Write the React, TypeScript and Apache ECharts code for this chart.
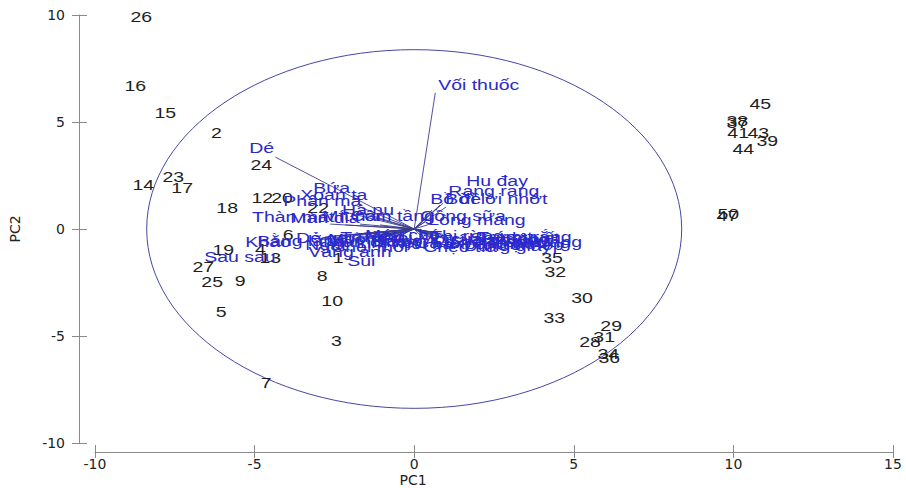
import React, { useEffect, useRef } from "react";
import * as echarts from "echarts";

// Observation scores (PC1, PC2)
const obsLabels = ["1","2","3","4","5","6","7","8","9","10","12","13","14","15","16","17","18","19","20","22","23","24","25","26","27","28","29","30","31","32","33","34","35","36","37","38","39","41","43","44","45","47","50"];
const obsPC1 = [-2.38,-6.20,-2.44,-4.82,-6.05,-3.95,-4.64,-2.88,-5.45,-2.57,-4.76,-4.51,-8.49,-7.80,-8.74,-7.27,-5.86,-5.98,-4.14,-3.01,-7.55,-4.79,-6.33,-8.55,-6.61,5.51,6.17,5.26,5.95,4.42,4.39,6.08,4.32,6.11,10.12,10.12,11.06,10.15,10.78,10.31,10.84,9.81,9.84];
const obsPC2 = [-1.36,4.49,-5.23,-0.93,-3.88,-0.28,-7.20,-2.20,-2.43,-3.36,1.45,-1.36,2.06,5.42,6.68,1.92,0.98,-0.98,1.45,0.98,2.43,2.99,-2.48,9.91,-1.78,-5.28,-4.53,-3.22,-5.05,-2.01,-4.16,-5.84,-1.36,-6.03,4.95,5.05,4.11,4.49,4.49,3.74,5.84,0.61,0.70];

// Variable loadings (arrow tips) and label anchors
const varNames = ["Vối thuốc","Dé","Hu đay","Rang rang","Bồ đề","Bời lời nhớt","Cồng sữa","Lòng mang","Chẹo tía","Mò cua","Trâm vỏ đỏ","Xoan nhừ","Sơn huyết","Gội nếp","Trám trắng","Re hương","Thị rừng","Cà lồ","Sâng","Bứa","Phân mã","Xoan ta","Hà nu","Thàn mát","Mán đỉa","Mít nài","Côm tầng","Kháo","Bằng lăng","Sau sau","Vàng anh","Sui","Dẻ gai","Chân chim","Trường","Lim xẹt","Giổi","Thôi ba","Máu chó","Ngát","Trâm trắng","Dung giấy","Chòi mòi","Ba soi","Lá nến","Muồng"];
const varTipX = [0.66,-4.35,0.91,0.81,0.56,1.00,0.34,0.50,0.40,0.55,0.70,0.45,0.80,0.85,0.75,0.60,0.35,0.25,0.90,-1.85,-2.16,-1.70,-1.32,-2.63,-2.16,-1.70,-1.07,-2.79,-2.48,-3.01,-1.54,-1.07,-2.20,-1.90,-1.50,-1.20,-0.80,-0.60,-1.00,-2.00,0.95,0.65,-1.30,-0.90,0.30,-1.60];
const varTipY = [6.36,3.36,1.21,1.12,0.89,1.03,0.33,0.23,-0.25,-0.15,-0.22,-0.30,-0.30,-0.40,-0.18,-0.35,-0.12,-0.20,-0.25,1.12,0.79,0.80,0.56,0.23,0.19,0.23,0.19,-0.37,-0.33,-0.51,-0.51,-0.65,-0.30,-0.45,-0.25,-0.40,-0.25,-0.40,-0.15,-0.55,-0.45,-0.50,-0.55,-0.35,-0.45,-0.20];
const varLabelX = [0.75,-5.17,1.63,1.07,0.50,0.97,0.19,0.44,0.28,0.13,0.81,1.19,1.75,2.54,1.97,2.13,0.50,0.03,2.85,-3.16,-4.10,-3.57,-2.26,-5.08,-3.88,-2.88,-2.00,-5.29,-4.92,-6.58,-3.32,-2.10,-3.70,-3.01,-2.32,-1.82,-1.13,-0.81,-1.54,-3.41,2.30,1.55,-2.60,-1.30,0.60,-2.70];
const varLabelY = [6.73,3.79,2.24,1.78,1.40,1.40,0.61,0.42,-0.84,-0.47,-0.51,-0.70,-0.42,-0.75,-0.37,-0.65,-0.33,-0.65,-0.47,1.92,1.31,1.59,0.89,0.56,0.51,0.61,0.61,-0.61,-0.56,-1.31,-1.07,-1.50,-0.42,-0.61,-0.37,-0.65,-0.42,-0.70,-0.28,-0.75,-0.58,-0.80,-0.85,-0.55,-0.60,-0.48];

const xMin = -10, xMax = 15, xStep = 5;
const yMin = -10, yMax = 10, yStep = 5;
const circleRadius = [8.38];

const AXIS_GRAY = "#8a8a8a";
const BLUE = "#2a2acc";
const LINE_BLUE = "#3c3c8c";
const TEXT_FONT = '15px "Liberation Sans", Arial, sans-serif';
const STRETCH = 1.3;

export default function App() {
  const ref = useRef<HTMLDivElement>(null);
  useEffect(() => {
    if (!ref.current) return;
    const chart = echarts.init(ref.current, undefined, { renderer: "svg" });
    const axisLabelStyle = { fontFamily: "DejaVu Sans", fontSize: 14, color: "#222" };
    const baseX = {
      type: "value", min: xMin, max: xMax, interval: xStep, position: "bottom", offset: 9,
      splitLine: { show: false },
    };
    const baseY = {
      type: "value", min: yMin, max: yMax, interval: yStep, position: "left", offset: 16,
      splitLine: { show: false },
    };
    const option: any = {
      animation: false,
      backgroundColor: "#ffffff",
      grid: { left: 95, right: 13, top: 15, bottom: 45, containLabel: false, outerBoundsMode: "none" },
      xAxis: [
        {
          ...baseX,
          name: "PC1", nameLocation: "middle", nameGap: 21, nameMoveOverlap: false,
          nameTextStyle: { fontFamily: "DejaVu Sans", fontSize: 14, color: "#222", padding: [0, 162, 0, 0] },
          axisLine: { show: true, onZero: false, lineStyle: { color: AXIS_GRAY, width: 1 } },
          axisTick: { show: true, inside: false, length: 6, lineStyle: { color: AXIS_GRAY } },
          axisLabel: { ...axisLabelStyle, margin: 5 },
        },
        {
          ...baseX,
          axisLine: { show: false, onZero: false },
          axisTick: { show: true, inside: true, length: 7, lineStyle: { color: AXIS_GRAY } },
          axisLabel: { show: false },
        },
      ],
      yAxis: [
        {
          ...baseY,
          name: "PC2", nameLocation: "middle", nameGap: 57, nameMoveOverlap: false,
          nameTextStyle: { fontFamily: "DejaVu Sans", fontSize: 14, color: "#222" },
          axisLine: { show: true, onZero: false, lineStyle: { color: AXIS_GRAY, width: 1 } },
          axisTick: { show: true, inside: false, length: 7, lineStyle: { color: AXIS_GRAY } },
          axisLabel: { ...axisLabelStyle, margin: 14 },
        },
        {
          ...baseY,
          axisLine: { show: false, onZero: false },
          axisTick: { show: true, inside: true, length: 8, lineStyle: { color: AXIS_GRAY } },
          axisLabel: { show: false },
        },
      ],
      series: [
        {
          type: "custom",
          name: "circle",
          xAxisIndex: 0, yAxisIndex: 0,
          clip: false, silent: true,
          data: circleRadius.map((r) => [0, 0, r]),
          renderItem: (params: any, api: any) => {
            const c = api.coord([api.value(0), api.value(1)]);
            const s = api.size([api.value(2), api.value(2)]);
            return {
              type: "ellipse",
              shape: { cx: c[0], cy: c[1], rx: s[0], ry: s[1] },
              style: { fill: "none", stroke: "#4646a6", lineWidth: 1 },
            };
          },
          z: 1,
        },
        {
          type: "custom",
          name: "vectors",
          xAxisIndex: 0, yAxisIndex: 0,
          clip: false, silent: true,
          data: varNames.map((n, i) => [varTipX[i], varTipY[i]]),
          renderItem: (params: any, api: any) => {
            const o = api.coord([0, 0]);
            const t = api.coord([api.value(0), api.value(1)]);
            return {
              type: "line",
              shape: { x1: o[0], y1: o[1], x2: t[0], y2: t[1] },
              style: { stroke: LINE_BLUE, lineWidth: 0.9 },
            };
          },
          z: 2,
        },
        {
          type: "custom",
          name: "observations",
          xAxisIndex: 0, yAxisIndex: 0,
          clip: false, silent: true,
          data: obsLabels.map((l, i) => [obsPC1[i], obsPC2[i]]),
          renderItem: (params: any, api: any) => {
            const p = api.coord([api.value(0), api.value(1)]);
            return {
              type: "text",
              x: p[0], y: p[1], scaleX: STRETCH,
              style: {
                text: obsLabels[params.dataIndex], x: 0, y: 0,
                fill: "#1e1e1e", font: TEXT_FONT, align: "center", verticalAlign: "middle",
              },
            };
          },
          z: 3,
        },
        {
          type: "custom",
          name: "variables",
          xAxisIndex: 0, yAxisIndex: 0,
          clip: false, silent: true,
          data: varNames.map((n, i) => [varLabelX[i], varLabelY[i]]),
          renderItem: (params: any, api: any) => {
            const p = api.coord([api.value(0), api.value(1)]);
            return {
              type: "text",
              x: p[0], y: p[1], scaleX: STRETCH,
              style: {
                text: varNames[params.dataIndex], x: 0, y: 0,
                fill: BLUE, font: TEXT_FONT, align: "left", verticalAlign: "middle",
              },
            };
          },
          z: 4,
        },
      ],
    };
    chart.setOption(option);
    return () => chart.dispose();
  }, []);
  return (
    <div
      ref={ref}
      style={{ position: "absolute", left: 0, top: 0, width: 906, height: 488, background: "#fff" }}
    />
  );
}
